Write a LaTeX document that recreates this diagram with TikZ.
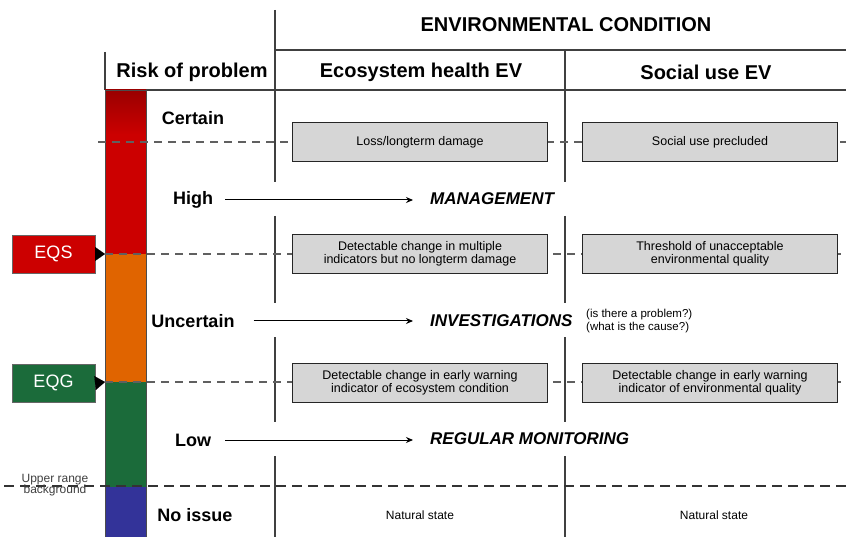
\documentclass[tikz,border=0pt]{standalone}
\usepackage{fontspec}
\setmainfont{Liberation Sans}
\usetikzlibrary{arrows.meta}
\definecolor{barred}{HTML}{CC0000}
\definecolor{bardark}{HTML}{9A0000}
\definecolor{barorange}{HTML}{E06400}
\definecolor{bargreen}{HTML}{1B6B3A}
\definecolor{barblue}{HTML}{333399}
\definecolor{boxgray}{HTML}{D6D6D6}
\definecolor{dashgray}{HTML}{606060}
\definecolor{linegray}{HTML}{404040}
\tikzset{
  hdr/.style={font=\fontsize{20}{22}\selectfont\bfseries, inner sep=0pt},
  lvl/.style={font=\fontsize{18}{20}\selectfont\bfseries, inner sep=0pt},
  act/.style={font=\fontsize{17}{19}\selectfont\bfseries\itshape, inner sep=0pt, anchor=west},
  gbox/.style={draw=black!85, line width=1.2pt, fill=boxgray, minimum width=255pt, minimum height=39pt,
    align=center, inner sep=1pt, font=\fontsize{12.5}{12.5}\selectfont},
  flag/.style={minimum width=83pt, minimum height=38pt, inner sep=0pt, text=white,
    font=\fontsize{18}{20}\selectfont, draw=black!60, line width=0.6pt},
  arr/.style={line width=1pt, -{Stealth[length=7pt,width=6pt]}},
  tip/.style={-{Triangle[length=10pt,width=14pt]}, line width=0.1pt},
  dline/.style={dashgray, line width=1.5pt, dash pattern=on 8pt off 6pt},
  bline/.style={black!80, line width=1.4pt, dash pattern=on 10pt off 6pt},
  rule/.style={linegray, line width=1.3pt},
  small/.style={font=\fontsize{12}{13}\selectfont, inner sep=0pt}
}
\begin{document}
\begin{tikzpicture}[x=1pt,y=-1pt]
\useasboundingbox (0,0) rectangle (846,537);
% header rules
\draw[rule] (275,50) -- (846,50);
\draw[rule] (105,90) -- (846,90);
\draw[rule] (105,52) -- (105,90);
% vertical rules with gaps at the action rows
\foreach \xx/\yy in {275/10, 565/50}{
  \draw[rule] (\xx,\yy) -- (\xx,182);
  \draw[rule] (\xx,216) -- (\xx,303);
  \draw[rule] (\xx,337) -- (\xx,422);
  \draw[rule] (\xx,456) -- (\xx,537);
}
% headers
\node[hdr] (envcond) at (566,25) {ENVIRONMENTAL CONDITION};
\node[hdr] (risk) at (192,72) {Risk of problem};
\node[hdr] (eco) at (421,72) {Ecosystem health EV};
\node[hdr] (soc) at (706,72) {Social use EV};
% risk bar
\shade[top color=bardark, bottom color=barred] (105,90) rectangle (146,135);
\fill[barred] (105,134) rectangle (146,254);
\fill[barorange] (105,254) rectangle (146,382);
\fill[bargreen] (105,382) rectangle (146,487);
\fill[barblue] (105,487) rectangle (146,537);
\draw[black!70, line width=0.8pt] (105,90) rectangle (146,537);
% threshold lines
\coordinate (c1) at (98,142);
\coordinate (c1e) at (846,142);
\coordinate (sTip) at (105,254);
\coordinate (sEnd) at (846,254);
\coordinate (gTip) at (105,382);
\coordinate (gEnd) at (846,382);
\coordinate (bgS) at (4,486);
\coordinate (bgE) at (846,486);
\draw[dline] (c1) -- (c1e);
\draw[dline] (sTip) -- (sEnd);
\draw[dline] (gTip) -- (gEnd);
\draw[bline] (bgS) -- (bgE);
% flags
\node[flag, fill=barred] (eqs) at (53.5,254) {EQS};
\node[flag, fill=bargreen] (eqg) at (53.5,383) {EQG};
\draw[tip] (eqs.east) -- (sTip);
\draw[tip] (eqg.east) -- (gTip);
% level labels
\node[lvl] (certain) at (193,118) {Certain};
\node[lvl] (high) at (193,200) {High};
\node[lvl] (uncertain) at (193,321) {Uncertain};
\node[lvl] (low) at (193,440) {Low};
\node[lvl] (noissue) at (195,515) {No issue};
% actions
\node[act] (mgmt) at (430,199) {MANAGEMENT};
\node[act] (inv) at (430,321) {INVESTIGATIONS};
\node[act] (mon) at (430,439) {REGULAR MONITORING};
\draw[arr, shorten <=12pt, shorten >=17pt] (high) -- (high -| mgmt.west);
\draw[arr, shorten <=19pt, shorten >=17pt] (uncertain) -- (uncertain -| inv.west);
\draw[arr, shorten <=14pt, shorten >=17pt] (low) -- (low -| mon.west);
\node[small, anchor=west, align=left, font=\fontsize{11.5}{12.5}\selectfont] (q) at (586,321) {(is there a problem?)\\(what is the cause?)};
% condition boxes
\node[gbox] (e1) at (420,142) {Loss/longterm damage};
\node[gbox] (s1) at (710,142) {Social use precluded};
\node[gbox] (e2) at (420,254) {Detectable change in multiple\\indicators but no longterm damage};
\node[gbox] (s2) at (710,254) {Threshold of unacceptable\\environmental quality};
\node[gbox] (e3) at (420,383) {Detectable change in early warning\\indicator of ecosystem condition};
\node[gbox] (s3) at (710,383) {Detectable change in early warning\\indicator of environmental quality};
% bottom
\node[small, text=black!75, align=center, font=\fontsize{12}{11.5}\selectfont] (upper) at (55,485) {Upper range\\background};
\node[small] (nat1) at (420,515) {Natural state};
\node[small] (nat2) at (714,515) {Natural state};
\end{tikzpicture}
\end{document}
